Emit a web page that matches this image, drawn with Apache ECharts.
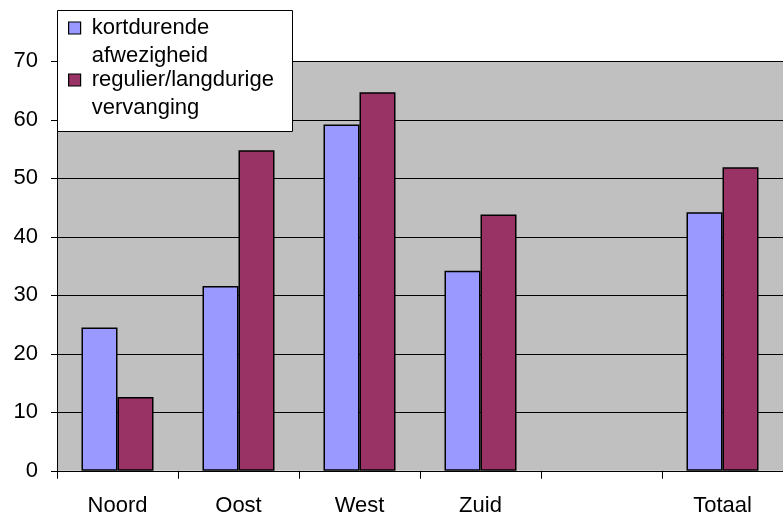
<!DOCTYPE html>
<html>
<head>
<meta charset="utf-8">
<script src="https://cdn.jsdelivr.net/npm/echarts@6/dist/echarts.min.js"></script>
<style>
  html, body { margin: 0; padding: 0; background: #fff; }
  #chart { width: 783px; height: 523px; }
</style>
</head>
<body>
<div id="chart"></div>
<script>
// categories + values
const categories = ['Noord', 'Oost', 'West', 'Zuid', '', 'Totaal'];
const kortdurende = [24.5, 31.6, 59.2, 34.2, null, 44.2];
const regulier = [12.6, 54.8, 64.7, 43.8, null, 51.9];
const yTicks = [0, 10, 20, 30, 40, 50, 60, 70];
const name1 = 'kortdurende\nafwezigheid';
const name2 = 'regulier/langdurige\nvervanging';

const font = 'Liberation Sans, Arial, sans-serif';
const legendText = {
  fontFamily: font,
  fontSize: 22,
  color: '#000',
  lineHeight: 28
};

// empty first line so the icon sits next to the first text line,
// leading space for the gap between icon and text
const legendFormatter = function (name) {
  return ' \n' + name.split('\n').map(function (s) { return ' ' + s; }).join('\n');
};

const myChart = echarts.init(document.getElementById('chart'));
myChart.setOption({
  animation: false,
  grid: {
    left: 57,
    top: 61.3,
    bottom: 52.2,
    right: -8,
    show: true,
    backgroundColor: '#c0c0c0',
    borderWidth: 0
  },
  graphic: [
    {
      type: 'rect',
      z: 10,
      shape: { x: 57.5, y: 10.5, width: 235, height: 121 },
      style: { fill: '#fff', stroke: '#000', lineWidth: 1 }
    }
  ],
  legend: [
    {
      data: [name1],
      formatter: legendFormatter,
      orient: 'vertical',
      left: 68,
      top: -14,
      padding: 0,
      z: 20,
      icon: 'rect',
      itemWidth: 12,
      itemHeight: 12,
      itemStyle: { borderColor: '#000', borderWidth: 1.2 },
      textStyle: legendText
    },
    {
      data: [name2],
      formatter: legendFormatter,
      orient: 'vertical',
      left: 68,
      top: 38,
      padding: 0,
      z: 20,
      icon: 'rect',
      itemWidth: 12,
      itemHeight: 12,
      itemStyle: { borderColor: '#000', borderWidth: 1.2 },
      textStyle: legendText
    }
  ],
  xAxis: {
    type: 'category',
    data: categories,
    axisLine: { show: true, lineStyle: { color: '#000', width: 1 } },
    axisTick: { show: true, length: 8, lineStyle: { color: '#000' } },
    axisLabel: { color: '#000', fontFamily: font, fontSize: 22, margin: 24 },
    splitLine: { show: false }
  },
  yAxis: {
    type: 'value',
    min: yTicks[0],
    max: yTicks[yTicks.length - 1],
    interval: 10,
    axisLine: { show: true, lineStyle: { color: '#000', width: 1 } },
    axisTick: { show: true, length: 6, lineStyle: { color: '#000' } },
    axisLabel: { color: '#000', fontFamily: font, fontSize: 22, margin: 19 },
    splitLine: { show: true, lineStyle: { color: '#000', width: 1 } }
  },
  series: [
    {
      name: name1,
      type: 'bar',
      data: kortdurende,
      barWidth: 36,
      barGap: '0%',
      itemStyle: { color: '#9999ff', borderColor: '#000', borderWidth: 1.5 }
    },
    {
      name: name2,
      type: 'bar',
      data: regulier,
      barWidth: 36,
      barGap: '0%',
      itemStyle: { color: '#993366', borderColor: '#000', borderWidth: 1.5 }
    }
  ]
});
</script>
</body>
</html>
